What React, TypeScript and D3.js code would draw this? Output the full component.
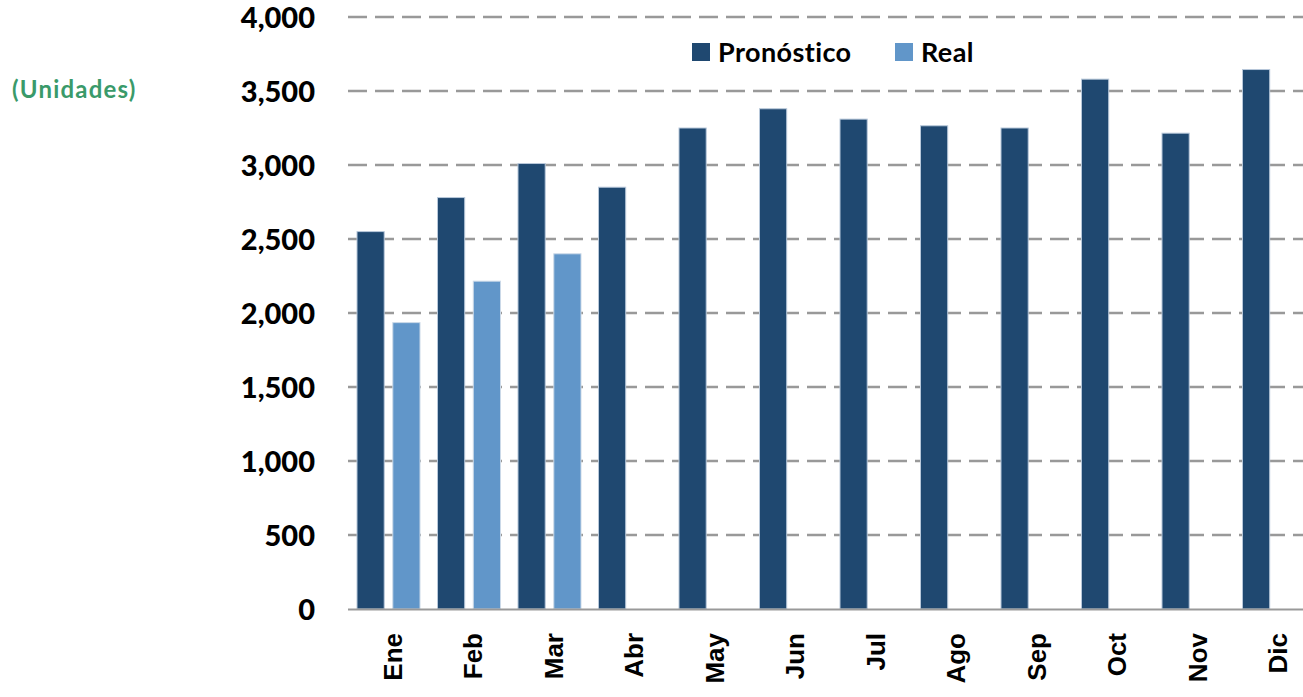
import React, { useRef, useEffect } from "react";
import * as d3 from "d3";

const months = ["Ene", "Feb", "Mar", "Abr", "May", "Jun", "Jul", "Ago", "Sep", "Oct", "Nov", "Dic"];
const pronostico = [2550, 2780, 3010, 2850, 3250, 3380, 3310, 3265, 3250, 3580, 3215, 3645];
const real = [1935, 2215, 2400, null, null, null, null, null, null, null, null, null];
const yTicks = [0, 500, 1000, 1500, 2000, 2500, 3000, 3500, 4000];
const seriesNames = ["Pronóstico", "Real"];
const seriesColors = ["#1f4870", "#6196c9"];

const width = 1303;
const height = 697;
const margin = { top: 17, right: -11, bottom: 88, left: 348 };

const Chart = () => {
  const svgRef = useRef(null);

  useEffect(() => {
    const svg = d3.select(svgRef.current);
    svg.selectAll("*").remove();

    const chartWidth = width - margin.left - margin.right;
    const chartHeight = height - margin.top - margin.bottom;

    const xScale = d3.scaleBand().domain(months).range([0, chartWidth]).paddingInner(0).paddingOuter(0);
    const inner = d3
      .scaleBand()
      .domain(seriesNames)
      .range([9, xScale.bandwidth() - 8.5])
      .paddingInner(0.24);
    const yScale = d3.scaleLinear().domain([0, 4000]).range([chartHeight, 0]);

    const chart = svg.append("g").attr("transform", `translate(${margin.left}, ${margin.top})`);

    // gridlines
    chart
      .selectAll("line.grid")
      .data(yTicks.filter((t) => t > 0))
      .enter()
      .append("line")
      .attr("class", "grid")
      .attr("x1", 0)
      .attr("x2", chartWidth)
      .attr("y1", (d) => yScale(d))
      .attr("y2", (d) => yScale(d))
      .attr("stroke", "#999")
      .attr("stroke-width", 2.5)
      .attr("stroke-dasharray", "19,8");

    // y labels
    chart
      .selectAll("text.ylab")
      .data(yTicks)
      .enter()
      .append("text")
      .attr("x", -33)
      .attr("y", (d) => yScale(d))
      .attr("dy", "0.38em")
      .attr("text-anchor", "end")
      .attr("font-family", "Lato, sans-serif")
      .attr("font-weight", 900)
      .attr("font-size", 29)
      .attr("fill", "#000")
      .text((d) => d3.format(",")(d));

    // bars
    const groups = chart
      .selectAll("g.month")
      .data(months)
      .enter()
      .append("g")
      .attr("transform", (d) => `translate(${xScale(d)},0)`);

    groups
      .append("rect")
      .attr("x", inner("Pronóstico"))
      .attr("y", (d, i) => yScale(pronostico[i]))
      .attr("width", inner.bandwidth())
      .attr("height", (d, i) => chartHeight - yScale(pronostico[i]))
      .attr("fill", seriesColors[0])
      .attr("stroke", "#b8c8da")
      .attr("stroke-width", 1);

    groups
      .filter((d, i) => real[i] != null)
      .append("rect")
      .attr("x", inner("Real"))
      .attr("y", (d) => yScale(real[months.indexOf(d)]))
      .attr("width", inner.bandwidth())
      .attr("height", (d) => chartHeight - yScale(real[months.indexOf(d)]))
      .attr("fill", seriesColors[1])
      .attr("stroke", "#cbd9e8")
      .attr("stroke-width", 1);

    // x axis line
    chart
      .append("line")
      .attr("x1", 0)
      .attr("x2", chartWidth)
      .attr("y1", chartHeight + 0.5)
      .attr("y2", chartHeight + 0.5)
      .attr("stroke", "#999")
      .attr("stroke-width", 2);

    // x labels
    chart
      .selectAll("text.xlab")
      .data(months)
      .enter()
      .append("text")
      .attr(
        "transform",
        (d) => `translate(${xScale(d) + xScale.bandwidth() / 2},${chartHeight + 24}) rotate(-90)`
      )
      .attr("dy", 13.5)
      .attr("text-anchor", "end")
      .attr("font-family", "Liberation Sans, Arial, sans-serif")
      .attr("font-weight", "bold")
      .attr("font-size", 26)
      .attr("fill", "#000")
      .text((d) => d);

    // legend
    const legend = svg.append("g");
    const legendX = [692, 895];
    seriesNames.forEach((name, i) => {
      legend
        .append("rect")
        .attr("x", legendX[i])
        .attr("y", 43)
        .attr("width", 18)
        .attr("height", 18)
        .attr("fill", seriesColors[i]);
      legend
        .append("text")
        .attr("x", legendX[i] + 26)
        .attr("y", 62)
        .attr("font-family", "Lato, sans-serif")
        .attr("font-weight", "bold")
        .attr("font-size", 27)
        .attr("letter-spacing", 0.4)
        .attr("fill", "#000")
        .text(name);
    });

    // units label
    svg
      .append("text")
      .attr("x", 12)
      .attr("y", 98)
      .attr("font-family", "Lato, sans-serif")
      .attr("font-weight", "bold")
      .attr("font-size", 24)
      .attr("letter-spacing", 1.2)
      .attr("fill", "#3a9a6a")
      .text("(Unidades)");
  }, []);

  return (
    <svg
      ref={svgRef}
      width={width}
      height={height}
      style={{ position: "absolute", left: 0, top: 0, background: "#fff" }}
    ></svg>
  );
};

export default function App() {
  return <Chart />;
}
